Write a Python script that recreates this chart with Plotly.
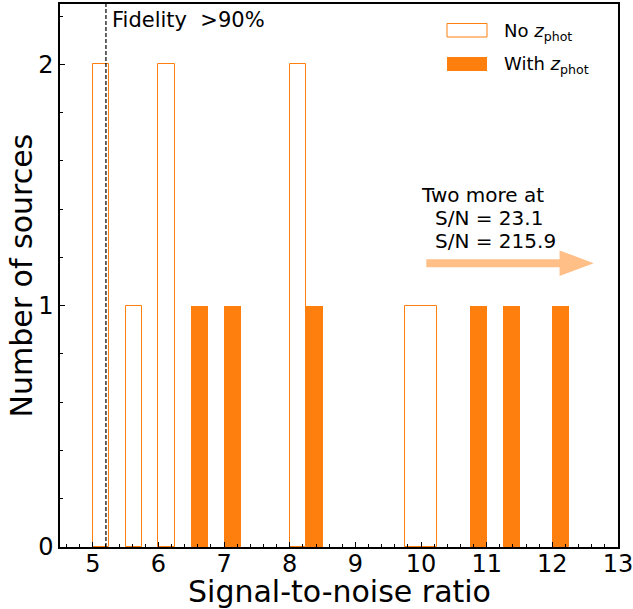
import plotly.graph_objects as go

# Data
nophot_bin_start = [5.0, 5.5, 6.0, 8.0, 9.75]
nophot_bin_end = [5.25, 5.75, 6.25, 8.25, 10.25]
nophot_counts = [2, 1, 2, 2, 1]

withphot_bin_start = [6.5, 7.0, 8.25, 10.75, 11.25, 12.0]
withphot_bin_end = [6.75, 7.25, 8.5, 11.0, 11.5, 12.25]
withphot_counts = [1, 1, 1, 1, 1, 1]

fidelity_sn = 5.2
x_ticks = [5, 6, 7, 8, 9, 10, 11, 12, 13]
y_ticks = [0, 1, 2]

ORANGE = "#ff7f0e"
LIGHT = "#ffbf86"
FONT = "DejaVu Sans"

fig = go.Figure()

fig.add_trace(go.Bar(
    x=[(a + b) / 2 for a, b in zip(nophot_bin_start, nophot_bin_end)],
    width=[b - a for a, b in zip(nophot_bin_start, nophot_bin_end)],
    y=nophot_counts,
    marker=dict(color="rgba(255,255,255,0)", line=dict(color=ORANGE, width=1)),
    name="No z_phot", showlegend=False,
))
fig.add_trace(go.Bar(
    x=[(a + b) / 2 for a, b in zip(withphot_bin_start, withphot_bin_end)],
    width=[b - a for a, b in zip(withphot_bin_start, withphot_bin_end)],
    y=withphot_counts,
    marker=dict(color=ORANGE, line=dict(width=0)),
    name="With z_phot", showlegend=False,
))

W, H = 633, 609
L, R, T, B = 60, 15, 4, 62
pw, ph = W - L - R, H - T - B


def px2paper(xp, yp):
    return (xp - L) / pw, 1 - (yp - T) / ph


shapes = []
# Fidelity line
shapes.append(dict(type="line", xref="x", yref="paper", x0=fidelity_sn, x1=fidelity_sn,
                   y0=0, y1=1, line=dict(color="black", width=1.2, dash="4px,2px")))
# Arrow (FancyArrow-like)
ax0, ay, alen, hw, hl, bw = 10.08, 1.176, 2.55, 0.053, 0.52, 0.0166
path = (f"M {ax0},{ay-bw} L {ax0+alen-hl},{ay-bw} L {ax0+alen-hl},{ay-hw} "
        f"L {ax0+alen},{ay} L {ax0+alen-hl},{ay+hw} L {ax0+alen-hl},{ay+bw} "
        f"L {ax0},{ay+bw} Z")
shapes.append(dict(type="path", xref="x", yref="y", path=path,
                   fillcolor=LIGHT, line=dict(width=0)))
# Custom legend patches
x0p, y0p = px2paper(447, 23.5)
x1p, y1p = px2paper(487, 37)
shapes.append(dict(type="rect", xref="paper", yref="paper", x0=x0p, x1=x1p, y0=y1p, y1=y0p,
                   fillcolor="white", line=dict(color=ORANGE, width=1)))
x0p, y0p = px2paper(447, 57)
x1p, y1p = px2paper(487, 71)
shapes.append(dict(type="rect", xref="paper", yref="paper", x0=x0p, x1=x1p, y0=y1p, y1=y0p,
                   fillcolor=ORANGE, line=dict(width=0)))

annotations = []


def add_text(xp, yp, text, size, xanchor="left", angle=0):
    x, y = px2paper(xp, yp)
    annotations.append(dict(xref="paper", yref="paper", x=x, y=y, xanchor=xanchor, yanchor="middle",
                            text=text, showarrow=False, align="left", textangle=angle,
                            font=dict(family=FONT, size=size, color="black")))


add_text(502, 32, "No <i>z</i><sub>phot</sub>", 18)
add_text(502, 65, "With <i>z</i><sub>phot</sub>", 18)
add_text(110, 20, "Fidelity  &gt;90%", 21)
add_text(419, 194.5, "Two more at", 20)
add_text(433, 217.5, "S/N = 23.1", 20)
add_text(433, 240.5, "S/N = 215.9", 20)
# Axis titles
add_text(339, 591, "Signal-to-noise ratio", 30, xanchor="center")
add_text(21, 275.5, "Number of sources", 30, xanchor="center", angle=-90)

fig.update_layout(
    width=W, height=H, barmode="overlay",
    margin=dict(l=L, r=R, t=T, b=B, autoexpand=False),
    plot_bgcolor="white", paper_bgcolor="white",
    font=dict(family=FONT, color="black"),
    shapes=shapes, annotations=annotations, bargap=0,
)
fig.update_xaxes(
    range=[4.5, 13], tickvals=x_ticks, ticktext=[str(v) for v in x_ticks],
    ticks="inside", ticklen=5, tickwidth=1, tickcolor="black",
    minor=dict(dtick=0.2, tick0=0, ticks="inside", ticklen=3, tickwidth=1, tickcolor="black"),
    showline=True, linecolor="black", linewidth=1.5, mirror=True,
    showgrid=False, zeroline=False, automargin=False, ticklabeloverflow="allow",
    ticklabelstandoff=-6,
    tickfont=dict(family=FONT, size=24, color="black"),
)
fig.update_yaxes(
    range=[0, 2.25], tickvals=y_ticks, ticktext=[str(v) for v in y_ticks],
    ticks="inside", ticklen=5, tickwidth=1, tickcolor="black",
    minor=dict(dtick=0.2, tick0=0, ticks="inside", ticklen=3, tickwidth=1, tickcolor="black"),
    showline=True, linecolor="black", linewidth=1.5, mirror=True,
    showgrid=False, zeroline=False, automargin=False, ticklabeloverflow="allow",
    tickfont=dict(family=FONT, size=24, color="black"),
)

fig.write_html("out.html")
